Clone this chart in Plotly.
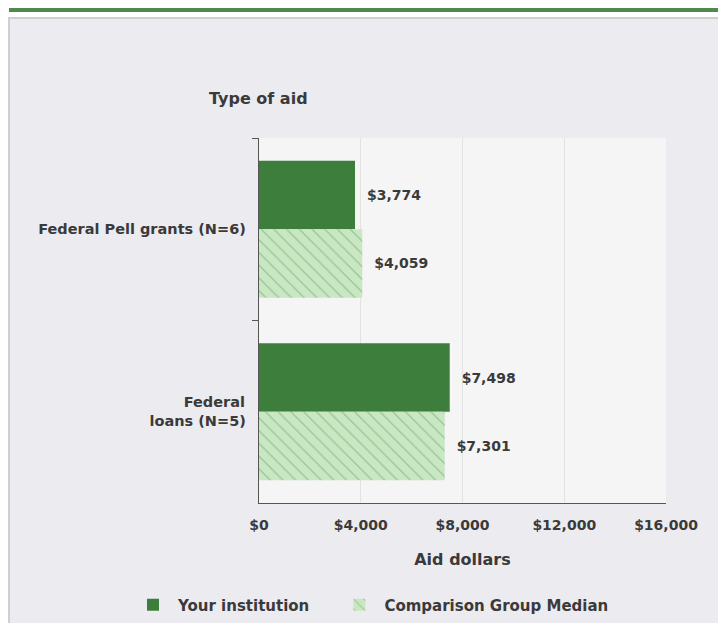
import plotly.graph_objects as go

categories = ["<b>Federal Pell grants (N=6)</b>", "<b>Federal\u00a0\u00a0<br>loans (N=5)</b>"]
your_inst = [3774, 7498]
comparison = [4059, 7301]
series_names = ["<b>Your institution</b>", "<b>Comparison Group Median</b>"]
tick_vals = [0, 4000, 8000, 12000, 16000]
tick_text = ["<b>$0</b>", "<b>$4,000</b>", "<b>$8,000</b>", "<b>$12,000</b>", "<b>$16,000</b>"]

font_fam = "DejaVu Sans, Verdana, sans-serif"
txtc = "#3a3a3a"
OFF = 8  # page body margin

fig = go.Figure()
fig.add_trace(go.Bar(
    y=categories, x=your_inst, orientation="h", name=series_names[0] + "\u00a0" * 4,
    marker=dict(color="#3e7e3c", line=dict(width=0)),
    text=["  <b>$" + f"{v:,}" + "</b>" for v in your_inst], textposition="outside",
    textfont=dict(family=font_fam, size=14, color=txtc), cliponaxis=False,
))
fig.add_trace(go.Bar(
    y=categories, x=comparison, orientation="h", name=series_names[1],
    marker=dict(color="#c9e7c3", line=dict(width=0),
                pattern=dict(shape="\\", fgcolor="#6aa56a", bgcolor="#c9e7c3",
                             size=9, solidity=0.15)),
    text=["  <b>$" + f"{v:,}" + "</b>" for v in comparison], textposition="outside",
    textfont=dict(family=font_fam, size=14, color=txtc), cliponaxis=False,
))

W, H = 726 - OFF, 623 - OFF
L, T = 259 - OFF, 138 - OFF
R = W - (666 - OFF)
B = H - (503 - OFF)
pw, ph = W - L - R, H - T - B
def px(x): return (x - OFF - L) / pw
def py(y): return (H - B - (y - OFF)) / ph

shapes = [
    dict(type="rect", xref="paper", yref="paper", x0=px(9), x1=px(720), y0=py(18), y1=py(640),
         fillcolor="#ecebf0", line=dict(color="#cfcfcf", width=2), layer="below"),
    dict(type="rect", xref="paper", yref="paper", x0=px(9), x1=px(719), y0=py(7), y1=py(12),
         fillcolor="#4e8a4e", line=dict(width=0), layer="below"),
    dict(type="rect", xref="x domain", yref="y domain", x0=0, x1=1, y0=0, y1=1,
         fillcolor="#f5f5f5", line=dict(width=0), layer="below"),
]

fig.update_layout(
    width=W, height=H,
    margin=dict(l=L, r=R, t=T, b=B, autoexpand=False),
    paper_bgcolor="white", plot_bgcolor="rgba(0,0,0,0)",
    barmode="group", bargap=0.25, bargroupgap=0,
    font=dict(family=font_fam, size=14, color=txtc),
    shapes=shapes,
    showlegend=True,
    legend=dict(orientation="h", x=px(128), xanchor="left", y=py(605), yanchor="middle",
                font=dict(size=15, color=txtc), bgcolor="rgba(0,0,0,0)", traceorder="normal",
                itemwidth=40),
    annotations=[
        dict(text="<b>Type of aid</b>", xref="paper", yref="paper", x=px(258), y=py(98),
             xanchor="center", yanchor="middle", showarrow=False, font=dict(size=16, color=txtc)),
    ],
)
fig.update_xaxes(range=[0, 16000], tickvals=tick_vals, ticktext=tick_text,
                 showgrid=True, gridcolor="#e2e2e2", gridwidth=1, zeroline=False,
                 showline=True, linecolor="#555555", linewidth=1,
                 ticklabelstandoff=9,
                 tickfont=dict(size=14, color=txtc),
                 title=dict(text="<b>Aid dollars</b>", font=dict(size=16, color=txtc), standoff=22))
fig.update_yaxes(autorange="reversed", showline=True, linecolor="#555555", linewidth=1,
                 ticks="outside", tickson="boundaries", ticklen=6, tickcolor="#555555",
                 tickfont=dict(size=14.5, color=txtc), showgrid=False, ticksuffix="  ")

fig.write_html("out.html")
